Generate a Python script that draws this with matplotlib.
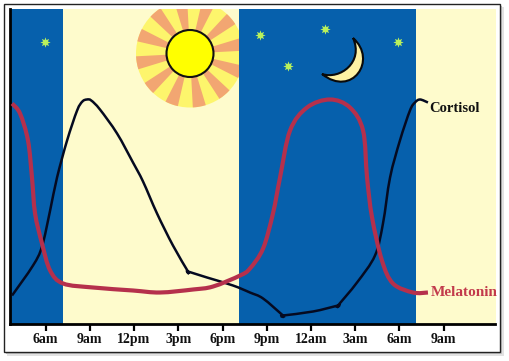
import matplotlib
matplotlib.use('Agg')
import matplotlib.pyplot as plt
from matplotlib.patches import Circle, Wedge, Rectangle, PathPatch
from matplotlib.path import Path

plt.rcParams['font.family'] = ['Liberation Serif', 'DejaVu Serif']

# hours since midnight of the first day, level in arbitrary units
tick_hours = [6, 9, 12, 15, 18, 21, 24, 27, 30, 33]
tick_labels = ['6am', '9am', '12pm', '3pm', '6pm', '9pm', '12am', '3am', '6am', '9am']

night_bands = [(3.59, 7.19), (19.12, 31.12)]
day_bands = [(7.19, 19.12), (31.12, 36.51)]

# a repeated point keeps a sharp corner in the curve
cortisol_t = [3.73, 5.15, 5.76, 6.31, 6.78, 7.46, 8.14, 8.5, 8.81, 9.1, 9.69, 10.85, 11.93, 12.61,
              13.56, 14.64, 15.66, 15.66, 16.95, 18.71, 19.86, 20.75, 22.10, 22.10, 24.14, 25.83, 25.83,
              27.12, 28.34, 28.88, 29.36, 30.03, 30.71, 31.05, 31.39, 31.93]
cortisol = [28, 58, 77, 113, 146, 183, 213, 222, 224, 223, 214, 190, 161, 142,
            110, 78, 52, 52, 46, 38, 31, 25, 8, 8, 12, 18, 18,
            41, 68, 100, 146, 183, 213, 221, 224, 221]

melatonin_t = [3.73, 4.27, 4.81, 5.08, 5.29, 5.76, 6.31, 7.19, 9.22, 11.93, 13.76, 16.0, 17.36,
               19.19, 19.86, 20.75, 21.42, 21.9, 22.58, 23.73, 25.29, 26.64, 27.53, 27.8,
               28.14, 28.81, 29.56, 30.92, 31.93]
melatonin = [220, 210, 183, 146, 110, 80, 53, 40, 36, 33, 31, 34, 37,
             48, 55, 75, 110, 146, 193, 216, 224, 216, 193, 146,
             106, 63, 40, 31, 31]

star_x = [45, 260, 325, 398, 288]
star_y = [42, 35, 29, 42, 66]
ray_angles = [10, 40, 70, 100, 130, 160, 190, 220, 250, 280, 310, 340]

NIGHT = '#0660AC'
DAY = '#FEFBCC'


def curve(t, y):
    # bezier path through the read points
    verts = [(t[0], y[0])]
    codes = [Path.MOVETO]
    for i in range(len(t) - 1):
        p0 = (t[max(i - 1, 0)], y[max(i - 1, 0)])
        p1 = (t[i], y[i])
        p2 = (t[i + 1], y[i + 1])
        p3 = (t[min(i + 2, len(t) - 1)], y[min(i + 2, len(t) - 1)])
        verts.append((p1[0] + (p2[0] - p0[0]) / 6, p1[1] + (p2[1] - p0[1]) / 6))
        verts.append((p2[0] - (p3[0] - p1[0]) / 6, p2[1] - (p3[1] - p1[1]) / 6))
        verts.append(p2)
        codes += [Path.CURVE4, Path.CURVE4, Path.CURVE4]
    return Path(verts, codes)


fig = plt.figure(figsize=(5.09, 3.61), dpi=100, facecolor='white')

# frame with a soft shadow, in pixel coordinates
over = fig.add_axes([0, 0, 1, 1], zorder=0)
over.set_xlim(0, 509)
over.set_ylim(361, 0)
over.axis('off')
over.add_patch(Rectangle((7, 7), 497, 349, fc='#e2e2e2', ec='none'))
over.add_patch(Rectangle((6, 6), 496, 348, fc='#c4c4c4', ec='none'))
over.add_patch(Rectangle((4, 4), 496, 348, fc='white', ec='#222222', lw=1.0))

ax = fig.add_axes([10 / 509, 37.5 / 361, 485.5 / 509, 314.5 / 361], zorder=1)
ax.set_xlim(3.59, 36.51)
ax.set_ylim(0, 314.5)
for a, b in night_bands:
    ax.axvspan(a, b, color=NIGHT, lw=0)
for a, b in day_bands:
    ax.axvspan(a, b, color=DAY, lw=0)

ax.add_patch(PathPatch(curve(cortisol_t, cortisol), fc='none', ec='#050a20', lw=1.8, zorder=3))
ax.add_patch(PathPatch(curve(melatonin_t, melatonin), fc='none', ec='#B5304C', lw=3.0, zorder=4))

ax.set_xticks(tick_hours)
ax.set_xticklabels(tick_labels, fontsize=10, fontweight='bold', color='#111111')
ax.set_yticks([])
ax.tick_params(axis='x', length=5, width=1.6, pad=1.5, color='black')
ax.spines['top'].set_visible(False)
ax.spines['right'].set_visible(False)
ax.spines['left'].set_linewidth(2.0)
ax.spines['bottom'].set_linewidth(2.0)

# decorations on top, again in pixels
deco = fig.add_axes([0, 0, 1, 1], zorder=2)
deco.set_xlim(0, 509)
deco.set_ylim(361, 0)
deco.axis('off')
deco.patch.set_alpha(0)

clip = Rectangle((130, 9), 109, 110, transform=deco.transData)
rays = Circle((190, 53.5), 54, fc='#FDF56C', ec='none', zorder=2)
deco.add_patch(rays)
rays.set_clip_path(clip)
for ang in ray_angles:
    w = Wedge((190, 53.5), 54, -ang - 7, -ang + 7, fc='#F2A672', ec='none', zorder=3)
    deco.add_patch(w)
    w.set_clip_path(clip)
deco.add_patch(Circle((190, 53.5), 23.5, fc='#FFFF00', ec='#111111', lw=1.5, zorder=4))

moon_verts = [(353, 38), (378, 60), (352, 98), (322, 74),
              (340, 80), (364, 62), (353, 38)]
moon_codes = [Path.MOVETO, Path.CURVE4, Path.CURVE4, Path.CURVE4,
              Path.CURVE4, Path.CURVE4, Path.CURVE4]
deco.add_patch(PathPatch(Path(moon_verts, moon_codes), fc='#FDF2A4', ec='#0a0a0a', lw=1.5, zorder=4))

deco.scatter(star_x, star_y, marker=(8, 1, 0), s=55, color='#B9F15C', lw=0, zorder=4)

deco.text(429, 108, 'Cortisol', fontsize=10.5, fontweight='bold', color='#111111', va='center', ha='left')
deco.text(431, 292.5, 'Melatonin', fontsize=11, fontweight='bold', color='#C23A4C', va='center', ha='left')

fig.savefig('out.png', dpi=100)
